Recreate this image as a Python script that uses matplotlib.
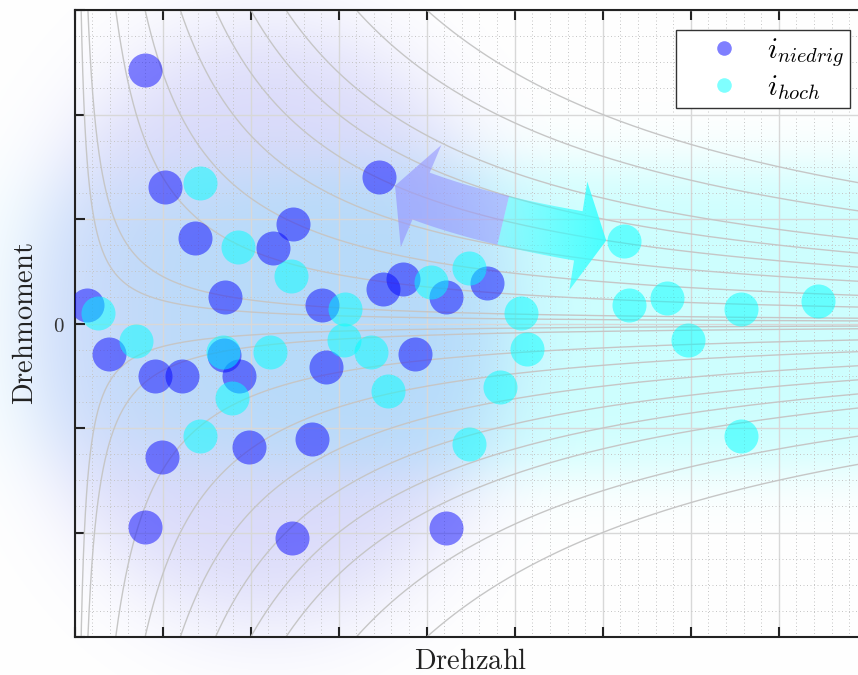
import numpy as np
import matplotlib
matplotlib.use("Agg")
import matplotlib.pyplot as plt
from matplotlib.lines import Line2D
from matplotlib.patches import Polygon
from matplotlib.transforms import IdentityTransform
from matplotlib.ticker import MultipleLocator, FuncFormatter

plt.rcParams["mathtext.fontset"] = "cm"

# Betriebspunkte bei niedriger Übersetzung (Drehzahl, Drehmoment)
niedrig_n = [0.80, 1.03, 1.37, 2.25, 2.48, 3.46, 0.14, 1.71, 2.81, 3.50, 3.73, 4.22, 4.69,
             0.39, 0.91, 1.22, 1.70, 1.87, 2.86, 3.87, 0.99, 1.98, 2.70, 0.80, 2.47, 4.22]
niedrig_m = [2.43, 1.31, 0.82, 0.72, 0.95, 1.40, 0.18, 0.25, 0.18, 0.33, 0.43, 0.25, 0.39,
             -0.29, -0.50, -0.50, -0.30, -0.50, -0.42, -0.29, -1.28, -1.18, -1.11, -1.95, -2.05, -1.96]

# Betriebspunkte bei hoher Übersetzung
hoch_n = [1.42, 1.86, 2.46, 0.26, 0.70, 3.07, 3.06, 1.68, 2.22, 3.37, 1.79, 3.56, 1.42,
          4.05, 4.48, 5.07, 5.14, 4.83, 4.48, 6.24, 6.30, 6.73, 6.97, 7.57, 8.45, 7.57]
hoch_m = [1.34, 0.73, 0.45, 0.10, -0.17, 0.14, -0.16, -0.27, -0.27, -0.27, -0.71, -0.65, -1.08,
          0.40, 0.53, 0.10, -0.24, -0.61, -1.15, 0.79, 0.18, 0.24, -0.16, 0.14, 0.22, -1.08]

# Linien konstanter Leistung  M = P / n
leistung = [0.22, 0.45, 1.4, 2.4, 3.6, 4.8, 6.0, 7.2, 9.6, 12.0]

# Übersetzungswechsel entlang einer Leistungshyperbel
pfeil_leistung = 4.8
pfeil_n_niedrig, pfeil_n_mitte, pfeil_n_hoch = 3.64, 4.87, 6.04

legend_labels = [r"$i_{niedrig}$", r"$i_{hoch}$"]

W, H = 858, 675
fig = plt.figure(figsize=(W / 100, H / 100), dpi=100)
bg = fig.add_axes([0, 0, 1, 1], zorder=0)
bg.set_axis_off()
ax = fig.add_axes([74.7 / W, 38 / H, 792 / W, 627 / H], zorder=1)
ax.set_facecolor("none")
ax.set_xlim(0, 9)
ax.set_ylim(-3, 3)

# --- weicher Hintergrund: je Klasse ein unscharfer Bereich -----------------
gx, gy = np.meshgrid(np.arange(W) + 0.5, np.arange(H) + 0.5)
grid_data = ax.transData.inverted().transform(np.column_stack([gx.ravel(), gy.ravel()]))


def soft_region(cx, cy, rx, ry, power, soft):
    dx = np.abs(grid_data[:, 0] - cx) / rx
    dy = np.abs(grid_data[:, 1] - cy) / ry
    rho = (dx ** power + dy ** power) ** (1 / power)
    return (1 / (1 + np.exp((rho - 1) / soft))).reshape(H, W)


a_hoch = 0.30 * soft_region(6.2, 0.05, 6.0, 1.45, 4, 0.11)[..., None]
a_niedrig = 0.29 * soft_region(2.2, 0.0, 2.7, 2.8, 2, 0.10)[..., None]
img = np.ones((H, W, 3))
img = img * (1 - a_hoch) + np.array([0.35, 1.0, 1.0]) * a_hoch
img = img * (1 - a_niedrig) + np.array([0.50, 0.50, 0.93]) * a_niedrig
bg.imshow(img, extent=(0, W, 0, H), origin="lower", aspect="auto", interpolation="bilinear")
bg.set_xlim(0, W)
bg.set_ylim(0, H)

# --- Raster --------------------------------------------------------------------
ax.xaxis.set_major_locator(MultipleLocator(1))
ax.yaxis.set_major_locator(MultipleLocator(1))
ax.xaxis.set_minor_locator(MultipleLocator(0.2))
ax.yaxis.set_minor_locator(MultipleLocator(0.25))
ax.grid(which="major", color="#d8d8d8", lw=1.0)
ax.grid(which="minor", color="#c4c4c4", lw=0.7, ls=(0, (1, 2.6)))
ax.yaxis.set_major_formatter(FuncFormatter(lambda v, _: r"$0$" if abs(v) < 1e-9 else ""))
ax.tick_params(which="major", direction="in", length=7, width=1.5, color="#222222",
               top=True, right=False, labelbottom=False, labelsize=15,
               labelcolor="#333333", pad=7)
ax.tick_params(which="minor", length=0)
for side in ("left", "bottom", "top"):
    ax.spines[side].set_linewidth(1.5)
    ax.spines[side].set_color("#222222")
ax.spines["right"].set_visible(False)

# --- Leistungshyperbeln ------------------------------------------------------
for P in leistung:
    n = np.geomspace(P / 3.3, 9.5, 800)
    for sgn in (1, -1):
        ax.plot(n, sgn * P / n, color="#c6c6c6", lw=1.0, zorder=1.6)


# --- gebogene Pfeile ---------------------------------------------------------------
def arrow_polygon(n0, n1, power, tail_w, head_w, head_len):
    n = np.linspace(n0, n1, 300)
    c = ax.transData.transform(np.column_stack([n, power / n]))
    seg = np.hypot(*np.diff(c, axis=0).T)
    s = np.concatenate([[0], np.cumsum(seg)])
    shaft = c[s <= s[-1] - head_len]
    t = np.gradient(shaft, axis=0)
    t /= np.linalg.norm(t, axis=1)[:, None]
    nv = np.column_stack([-t[:, 1], t[:, 0]])
    left = shaft + nv * tail_w / 2
    right = shaft - nv * tail_w / 2
    tip, base = c[-1], shaft[-1]
    u = (tip - base) / np.linalg.norm(tip - base)
    pn = np.array([-u[1], u[0]])
    return np.vstack([left, base + pn * head_w / 2, tip, base - pn * head_w / 2, right[::-1]])


def gradient_arrow(n0, n1, color, alpha0, alpha1):
    verts = arrow_polygon(n0, n1, pfeil_leistung, 50, 110, 28)
    clip = Polygon(verts, closed=True, transform=IdentityTransform(), fc="none", ec="none")
    inv = ax.transData.inverted()
    (x0, y0), (x1, y1) = inv.transform([verts.min(axis=0), verts.max(axis=0)])
    ramp = np.zeros((1, 256, 4))
    ramp[..., :3] = color
    alphas = np.linspace(alpha0, alpha1, 256)
    ramp[..., 3] = alphas if n1 > n0 else alphas[::-1]
    im = ax.imshow(ramp, extent=(x0, x1, y0, y1), aspect="auto",
                   interpolation="bilinear", zorder=2.5)
    im.set_clip_path(clip)


gradient_arrow(pfeil_n_mitte, pfeil_n_niedrig, (0.58, 0.58, 1.0), 0.50, 0.62)
gradient_arrow(pfeil_n_mitte, pfeil_n_hoch, (0.2, 1.0, 1.0), 0.35, 0.85)

# --- Messpunkte ----------------------------------------------------------------------
ax.scatter(niedrig_n, niedrig_m, s=600, color="blue", alpha=0.48, lw=0, zorder=3)
ax.scatter(hoch_n, hoch_m, s=600, color="cyan", alpha=0.5, lw=0, zorder=3)

handles = [Line2D([], [], ls="none", marker="o", ms=10.5, mew=0, color="blue", alpha=0.5),
           Line2D([], [], ls="none", marker="o", ms=10.5, mew=0, color="cyan", alpha=0.5)]
leg = ax.legend(handles, legend_labels, loc="upper right",
                bbox_to_anchor=(850 / W, 1 - 30 / H), bbox_transform=fig.transFigure,
                borderaxespad=0, fancybox=False, framealpha=1, edgecolor="#333333",
                fontsize=21, handlelength=2.85, handletextpad=0.05, labelspacing=0.15,
                borderpad=0.2)
leg.get_frame().set_linewidth(1.0)
leg.set_zorder(5)

ax.set_xlim(0, 9)
ax.set_ylim(-3, 3)
ax.set_xlabel(r"$\mathrm{Drehzahl}$", fontsize=20.5, color="#222222")
ax.set_ylabel(r"$\mathrm{Drehmoment}$", fontsize=20.5, color="#222222")
ax.xaxis.set_label_coords(0.5, -0.016)
ax.yaxis.set_label_coords(-0.045, 0.5)

fig.savefig("out.png", dpi=100)
